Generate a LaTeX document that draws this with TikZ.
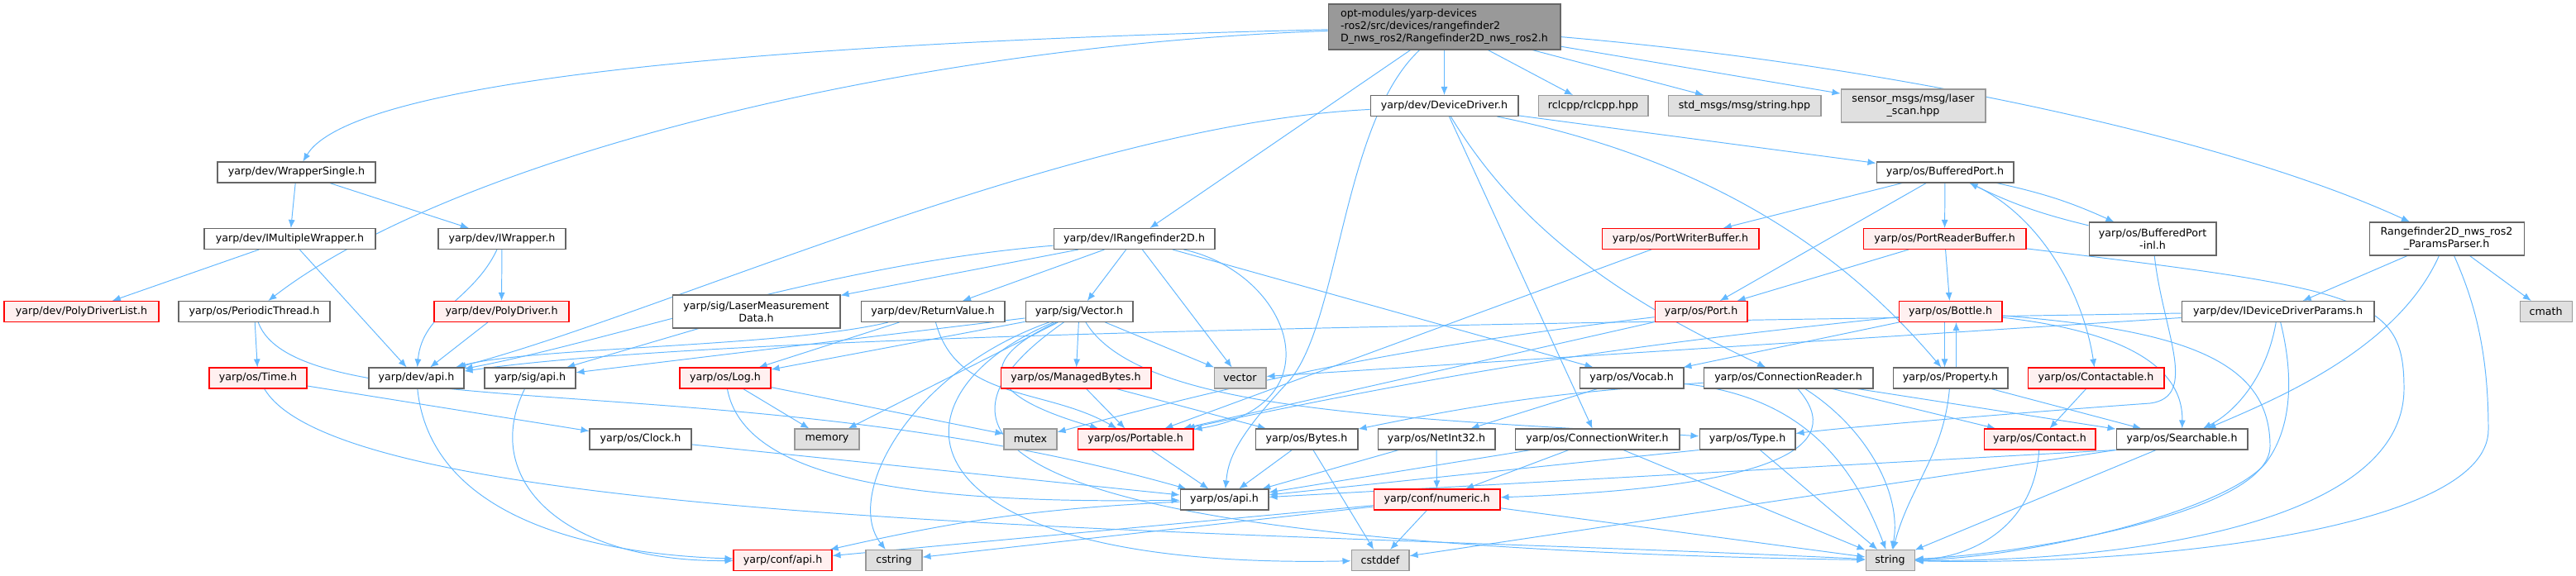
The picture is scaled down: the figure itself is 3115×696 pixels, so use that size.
\documentclass[tikz,border=0pt]{standalone}
\usepackage{fontspec}
\setmainfont{DejaVu Sans}
\usetikzlibrary{arrows.meta,backgrounds}
\definecolor{edgeblue}{HTML}{63B8FF}
\definecolor{nodeborder}{HTML}{666666}
\definecolor{truncfill}{HTML}{FFF0F0}
\definecolor{sysfill}{HTML}{E0E0E0}
\definecolor{sysborder}{HTML}{999999}
\definecolor{rootfill}{HTML}{999999}

\begin{document}
\begin{tikzpicture}[
            x=0.02cm, y=-0.02cm,
            header/.style={draw=nodeborder, fill=white, line width=0.6pt, minimum height=0.5cm, inner xsep=0pt, inner ysep=1pt, align=center, font=\fontsize{7.2}{8.5}\selectfont},
            partial/.style={header, draw=red, fill=truncfill},
            stdlib/.style={header, draw=sysborder, fill=sysfill},
            mainfile/.style={header, draw=nodeborder, fill=rootfill, align=left, minimum height=1.1cm},
            tall/.style={minimum height=0.8cm},
            arrow/.style={-{Latex[length=2mm,width=1.6mm]}, draw=edgeblue, line width=0.55pt}
        ]

        \useasboundingbox (0,0) rectangle (3115,696);

        \node[mainfile, minimum width=5.62cm] (root) at (1746.5,32.5) {opt-modules/yarp-devices\\-ros2/src/devices/rangefinder2\\D\_nws\_ros2/Rangefinder2D\_nws\_ros2.h};

        \node[header, minimum width=3.82cm] (wsingle) at (358.5,208.5) {yarp/dev/WrapperSingle.h};
        \node[header, minimum width=4.14cm] (imultiwrap) at (350.5,289) {yarp/dev/IMultipleWrapper.h};
        \node[header, minimum width=3.08cm] (iwrapper) at (607,289) {yarp/dev/IWrapper.h};
        \node[header, minimum width=3.9cm] (irange) at (1371.5,289) {yarp/dev/IRangefinder2D.h};
        \node[header, minimum width=3.58cm] (devdriver) at (1746.5,128) {yarp/dev/DeviceDriver.h};
        \node[stdlib, minimum width=2.66cm] (rclcpp) at (1926.5,128) {rclcpp/rclcpp.hpp};
        \node[stdlib, minimum width=3.7cm] (stdmsgs) at (2109.5,128) {std\_msgs/msg/string.hpp};
        \node[stdlib, tall, minimum width=3.5cm] (sensormsgs) at (2313.5,128) {sensor\_msgs/msg/laser\\\_scan.hpp};
        \node[header, minimum width=3.32cm] (bufport) at (2352,208.5) {yarp/os/BufferedPort.h};
        \node[partial, minimum width=3.8cm] (pwbuffer) at (2032,289) {yarp/os/PortWriterBuffer.h};
        \node[partial, minimum width=3.94cm] (prbuffer) at (2351.5,289) {yarp/os/PortReaderBuffer.h};
        \node[header, tall, minimum width=3.08cm] (bufportinl) at (2603,289) {yarp/os/BufferedPort\\-inl.h};
        \node[header, tall, minimum width=3.74cm] (paramsparser) at (2958.5,289) {Rangefinder2D\_nws\_ros2\\\_ParamsParser.h};

        \node[partial, minimum width=3.74cm] (polylist) at (98.5,377) {yarp/dev/PolyDriverList.h};
        \node[header, minimum width=3.66cm] (pthread) at (307.5,377) {yarp/os/PeriodicThread.h};
        \node[partial, minimum width=3.26cm] (polydriver) at (606.5,377) {yarp/dev/PolyDriver.h};
        \node[header, tall, minimum width=4.06cm] (lasermeas) at (914.5,377) {yarp/sig/LaserMeasurement\\Data.h};
        \node[header, minimum width=3.48cm] (retvalue) at (1128,377) {yarp/dev/ReturnValue.h};
        \node[header, minimum width=2.6cm] (sigvector) at (1305,377) {yarp/sig/Vector.h};
        \node[partial, minimum width=2.24cm] (port) at (2057,377) {yarp/os/Port.h};
        \node[partial, minimum width=2.5cm] (bottle) at (2358.5,377) {yarp/os/Bottle.h};
        \node[header, minimum width=4.66cm] (iddparams) at (2754.5,377) {yarp/dev/IDeviceDriverParams.h};
        \node[stdlib, minimum width=1.26cm] (cmath) at (3078.5,377) {cmath};

        \node[partial, minimum width=2.36cm] (time) at (312,457.5) {yarp/os/Time.h};
        \node[header, minimum width=2.3cm] (devapi) at (503.5,457.5) {yarp/dev/api.h};
        \node[header, minimum width=2.2cm] (sigapi) at (641,457.5) {yarp/sig/api.h};
        \node[partial, minimum width=2.2cm] (log) at (877,457.5) {yarp/os/Log.h};
        \node[partial, minimum width=3.64cm] (managedbytes) at (1301,457.5) {yarp/os/ManagedBytes.h};
        \node[stdlib, minimum width=1.26cm] (vec) at (1499.5,457.5) {vector};
        \node[header, minimum width=2.52cm] (vocab) at (1973,457.5) {yarp/os/Vocab.h};
        \node[header, minimum width=4.1cm] (connreader) at (2162.5,457.5) {yarp/os/ConnectionReader.h};
        \node[header, minimum width=2.78cm] (property) at (2358.5,457.5) {yarp/os/Property.h};
        \node[partial, minimum width=3.3cm] (contactable) at (2534.5,457.5) {yarp/os/Contactable.h};

        \node[header, minimum width=2.46cm] (clock) at (774.5,531.5) {yarp/os/Clock.h};
        \node[stdlib, minimum width=1.56cm] (memory) at (1000,531.5) {memory};
        \node[stdlib, minimum width=1.28cm] (mutex) at (1246,531.5) {mutex};
        \node[partial, minimum width=2.8cm] (portable) at (1373,531.5) {yarp/os/Portable.h};
        \node[header, minimum width=2.48cm] (bytes) at (1580,531.5) {yarp/os/Bytes.h};
        \node[header, minimum width=2.84cm] (netint) at (1737,531.5) {yarp/os/NetInt32.h};
        \node[header, minimum width=3.98cm] (connwriter) at (1931.5,531.5) {yarp/os/ConnectionWriter.h};
        \node[header, minimum width=2.32cm] (type) at (2113,531.5) {yarp/os/Type.h};
        \node[partial, minimum width=2.7cm] (contact) at (2466.5,531.5) {yarp/os/Contact.h};
        \node[header, minimum width=3.18cm] (searchable) at (2638.5,531.5) {yarp/os/Searchable.h};

        \node[header, minimum width=2.14cm] (osapi) at (1480.5,604.5) {yarp/os/api.h};
        \node[partial, minimum width=3.06cm] (numeric) at (1737.5,604.5) {yarp/conf/numeric.h};

        \node[partial, minimum width=2.38cm] (confapi) at (946.5,678) {yarp/conf/api.h};
        \node[stdlib, minimum width=1.36cm] (cstring) at (1081,678) {cstring};
        \node[stdlib, minimum width=1.4cm] (cstddef) at (1669,678) {cstddef};
        \node[stdlib, minimum width=1.18cm] (string) at (2285.5,678) {string};

        % Bend points of long connectors
        \coordinate (rootbend) at (1555,465);
        \coordinate (inlbend) at (2600,488);
        \coordinate (bottlebend) at (2745,540);
        \coordinate (iddbend) at (2740,560);
        \coordinate (prbend) at (2907,470);
        \coordinate (ppbend) at (3009,520);

        \begin{pgfonlayer}{background}
        \fill[white] (0,0) rectangle (3115,696);

        % Main file includes
        \draw[arrow] (root) .. controls (1000,50) and (430,90) .. (wsingle);
        \draw[arrow] (root) .. controls (1100,55) and (550,190) .. (pthread);
        \draw[arrow] (root) -- (devdriver);
        \draw[arrow] (root) -- (irange);
        \draw[arrow] (root) -- (rclcpp);
        \draw[arrow] (root) -- (stdmsgs);
        \draw[arrow] (root) -- (sensormsgs);
        \draw[arrow] (root) .. controls (2300,80) and (2700,170) .. (paramsparser);
        \draw[arrow] (root) .. controls (1621,150) and (1620,400) .. (rootbend) .. controls (1490,535) and (1485,560) .. (osapi);

        % yarp/dev
        \draw[arrow] (wsingle) -- (imultiwrap);
        \draw[arrow] (wsingle) -- (iwrapper);
        \draw[arrow] (imultiwrap) -- (polylist);
        \draw[arrow] (imultiwrap) -- (devapi);
        \draw[arrow] (iwrapper) -- (polydriver);
        \draw[arrow] (iwrapper) to[out=-115,in=85] (devapi);
        \draw[arrow] (polydriver) -- (devapi);
        \draw[arrow] (devdriver) .. controls (1300,150) and (800,380) .. (devapi);
        \draw[arrow] (devdriver) -- (bufport);
        \draw[arrow] (devdriver) -- (connwriter);
        \draw[arrow] (devdriver) .. controls (1850,300) and (2000,380) .. (connreader);
        \draw[arrow] (devdriver) .. controls (2100,200) and (2250,330) .. (property);
        \draw[arrow] (irange) .. controls (1000,320) and (750,410) .. (devapi);
        \draw[arrow] (irange) -- (lasermeas);
        \draw[arrow] (irange) -- (retvalue);
        \draw[arrow] (irange) -- (sigvector);
        \draw[arrow] (irange) -- (vec);
        \draw[arrow] (irange) .. controls (1560,330) and (1620,490) .. (portable);
        \draw[arrow] (irange) -- (vocab);
        \draw[arrow] (retvalue) .. controls (950,420) and (640,420) .. (devapi);
        \draw[arrow] (retvalue) -- (log);
        \draw[arrow] (retvalue) to[out=-75,in=150] (portable);
        \draw[arrow] (iddparams) .. controls (2000,390) and (900,400) .. (devapi);
        \draw[arrow] (iddparams) -- (vec);
        \draw[arrow] (iddparams) .. controls (2740,460) and (2700,500) .. (searchable);
        \draw[arrow] (iddparams) .. controls (2775,460) and (2770,520) .. (iddbend) .. controls (2690,620) and (2450,675) .. (string);
        \draw[arrow] (paramsparser) -- (iddparams);
        \draw[arrow] (paramsparser) .. controls (2900,420) and (2760,480) .. (searchable);
        \draw[arrow] (paramsparser) -- (cmath);
        \draw[arrow] (paramsparser) .. controls (2990,360) and (3009,420) .. (ppbend) .. controls (3009,640) and (2600,685) .. (string);

        % yarp/sig
        \draw[arrow] (lasermeas) -- (sigapi);
        \draw[arrow] (sigvector) -- (sigapi);
        \draw[arrow] (sigvector) -- (log);
        \draw[arrow] (sigvector) -- (memory);
        \draw[arrow] (sigvector) -- (managedbytes);
        \draw[arrow] (sigvector) -- (vec);
        \draw[arrow] (sigvector) .. controls (1150,450) and (1230,490) .. (portable);
        \draw[arrow] (sigvector) .. controls (1380,500) and (1700,505) .. (type);
        \draw[arrow] (sigvector) .. controls (1100,450) and (1020,600) .. (cstring);
        \draw[arrow] (sigvector) .. controls (1060,480) and (1080,690) .. (cstddef);
        \draw[arrow] (sigvector) .. controls (1100,520) and (1150,660) .. (string);
        \draw[arrow] (devapi) .. controls (520,620) and (700,670) .. (confapi);
        \draw[arrow] (sigapi) .. controls (580,580) and (680,680) .. (confapi);

        % yarp/os
        \draw[arrow] (pthread) -- (time);
        \draw[arrow] (pthread) .. controls (360,520) and (900,440) .. (osapi);
        \draw[arrow] (time) -- (clock);
        \draw[arrow] (time) .. controls (420,640) and (1500,640) .. (string);
        \draw[arrow] (clock) -- (osapi);
        \draw[arrow] (log) -- (memory);
        \draw[arrow] (log) -- (mutex);
        \draw[arrow] (log) .. controls (900,580) and (1100,610) .. (osapi);
        \draw[arrow] (managedbytes) -- (portable);
        \draw[arrow] (managedbytes) -- (bytes);
        \draw[arrow] (portable) -- (osapi);
        \draw[arrow] (bytes) -- (osapi);
        \draw[arrow] (bytes) -- (cstddef);
        \draw[arrow] (netint) -- (numeric);
        \draw[arrow] (netint) -- (osapi);
        \draw[arrow] (connwriter) -- (osapi);
        \draw[arrow] (connwriter) -- (numeric);
        \draw[arrow] (connwriter) -- (string);
        \draw[arrow] (type.south west) -- (osapi);
        \draw[arrow] (type) -- (string);
        \draw[arrow] (vocab) -- (netint);
        \draw[arrow] (vocab) .. controls (2180,480) and (2240,560) .. (string);
        \draw[arrow] (connreader) .. controls (2235,540) and (2150,590) .. (numeric);
        \draw[arrow] (connreader) .. controls (2260,520) and (2300,600) .. (string);
        \draw[arrow] (connreader) -- (contact);
        \draw[arrow] (connreader) -- (searchable);
        \draw[arrow] (connreader) to[bend right=4] (bytes);
        \draw[arrow] ([xshift=0.14cm]property.north) -- ([xshift=0.14cm]bottle.south);
        \draw[arrow] ([xshift=-0.14cm]bottle.south) -- ([xshift=-0.14cm]property.north);
        \draw[arrow] (property) -- (searchable);
        \draw[arrow] (property) to[out=-95,in=75] (string);
        \draw[arrow] (bottle) .. controls (2560,400) and (2640,440) .. (searchable);
        \draw[arrow] (bottle) .. controls (2650,400) and (2745,440) .. (bottlebend) .. controls (2745,620) and (2450,670) .. (string);
        \draw[arrow] (bottle) -- (vocab);
        \draw[arrow] (bottle) to[bend right=3] (portable);
        \draw[arrow] (bufport) -- (pwbuffer);
        \draw[arrow] (bufport) -- (port);
        \draw[arrow] (bufport) -- (prbuffer);
        \draw[arrow] (bufport) to[bend left=6] (bufportinl);
        \draw[arrow] (bufportinl) to[bend left=6] (bufport);
        \draw[arrow] (bufport) .. controls (2470,260) and (2520,360) .. (contactable);
        \draw[arrow] (bufportinl) .. controls (2615,400) and (2660,480) .. (inlbend) .. controls (2500,495) and (2250,515) .. (type);
        \draw[arrow] (pwbuffer) -- (portable);
        \draw[arrow] (prbuffer) -- (bottle);
        \draw[arrow] (prbuffer) -- (port);
        \draw[arrow] (prbuffer) .. controls (2860,350) and (2907,360) .. (prbend) .. controls (2907,640) and (2550,680) .. (string);
        \draw[arrow] (port) -- (portable);
        \draw[arrow] (port) to[bend right=4] (mutex);
        \draw[arrow] (contactable) -- (contact);
        \draw[arrow] (contact) .. controls (2460,640) and (2380,675) .. (string);
        \draw[arrow] (searchable) -- (string);
        \draw[arrow] (searchable.south west) -- (osapi);
        \draw[arrow] (searchable.south west) -- (cstddef);

        % yarp/conf
        \draw[arrow] (osapi) to[bend right=5] (confapi);
        \draw[arrow] (numeric) -- (confapi);
        \draw[arrow] (numeric) -- (cstring);
        \draw[arrow] (numeric) -- (cstddef);
        \draw[arrow] (numeric) -- (string);
        \end{pgfonlayer}

    \end{tikzpicture}
\end{document}
